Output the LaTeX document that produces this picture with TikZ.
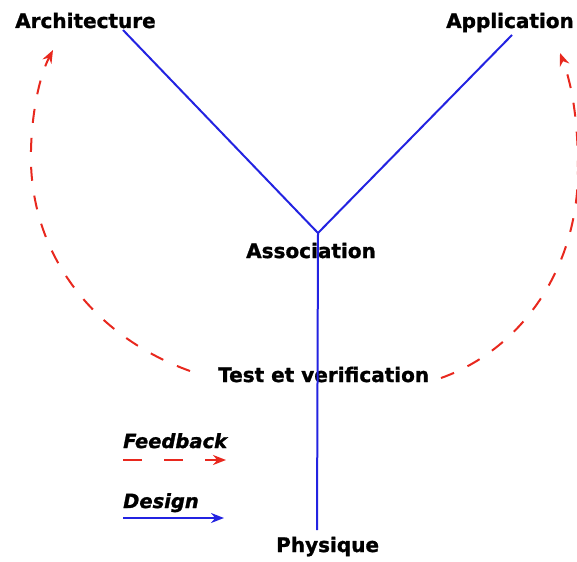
\documentclass[tikz,border=0pt]{standalone}
\usepackage{fontspec}
\setmainfont{DejaVu Sans}
\newfontfamily\heavy[BoldFeatures={FakeBold=1.3},BoldItalicFeatures={FakeBold=1.3}]{DejaVu Sans}
\usetikzlibrary{arrows.meta}
\definecolor{lineblue}{RGB}{35,35,225}
\definecolor{fbred}{RGB}{232,40,30}
\begin{document}
\begin{tikzpicture}[x=1pt,y=-1pt,
  lbl/.style={anchor=base west,inner sep=0pt,font=\heavy\fontsize{20}{22}\selectfont\bfseries},
  leg/.style={anchor=base west,inner sep=0pt,font=\heavy\fontsize{19.5}{22}\selectfont\bfseries\itshape},
  designline/.style={draw=lineblue,line width=2pt},
  fbline/.style={draw=fbred,line width=2pt,dash pattern=on 14pt off 15pt},
  fbtip/.style={-{Stealth[length=13pt,width=10pt]}},
  dtip/.style={-{Stealth[length=13pt,width=10pt]}}]
\useasboundingbox (0,0) rectangle (577,561);
\node[lbl] (arch) at (15,28) {Architecture};
\node[lbl] (appl) at (446,28) {Application};
\node[lbl] (assoc) at (246,258) {Association};
\node[lbl] (test) at (218,382) {Test et verification};
\node[lbl] (phys) at (276,552) {Physique};
\node[leg] (feed) at (123,448) {Feedback};
\node[leg] (design) at (123,508) {Design};
% junction and line ends
\coordinate (archEnd) at (123,30);
\coordinate (applEnd) at (512,35);
\coordinate (junc) at (318,233);
\coordinate (physEnd) at (317,530);
\draw[designline] (archEnd) -- (junc) -- (applEnd);
\draw[designline] (junc) -- (physEnd);
% feedback arcs
\coordinate (testL) at (190,371);
\coordinate (testR) at (441,378);
\coordinate (archTip) at (53,50);
\coordinate (applTip) at (560,53);
\draw[fbline,fbtip] (testL) .. controls (90,335) and (28,250) .. (31,150)
   .. controls (32,110) and (40,75) .. (archTip);
\draw[fbline,fbtip] (testR) .. controls (520,350) and (578,270) .. (578,170)
   .. controls (578,120) and (572,85) .. (applTip);
% legend
\coordinate (fbS) at (123,460);
\coordinate (fbE) at (226,460);
\coordinate (dS) at (123,518);
\coordinate (dE) at (224,518);
\draw[draw=fbred,line width=2pt,dash pattern=on 19pt off 22pt,fbtip] (fbS) -- (fbE);
\draw[designline,dtip,fill=lineblue] (dS) -- (dE);
\end{tikzpicture}
\end{document}
